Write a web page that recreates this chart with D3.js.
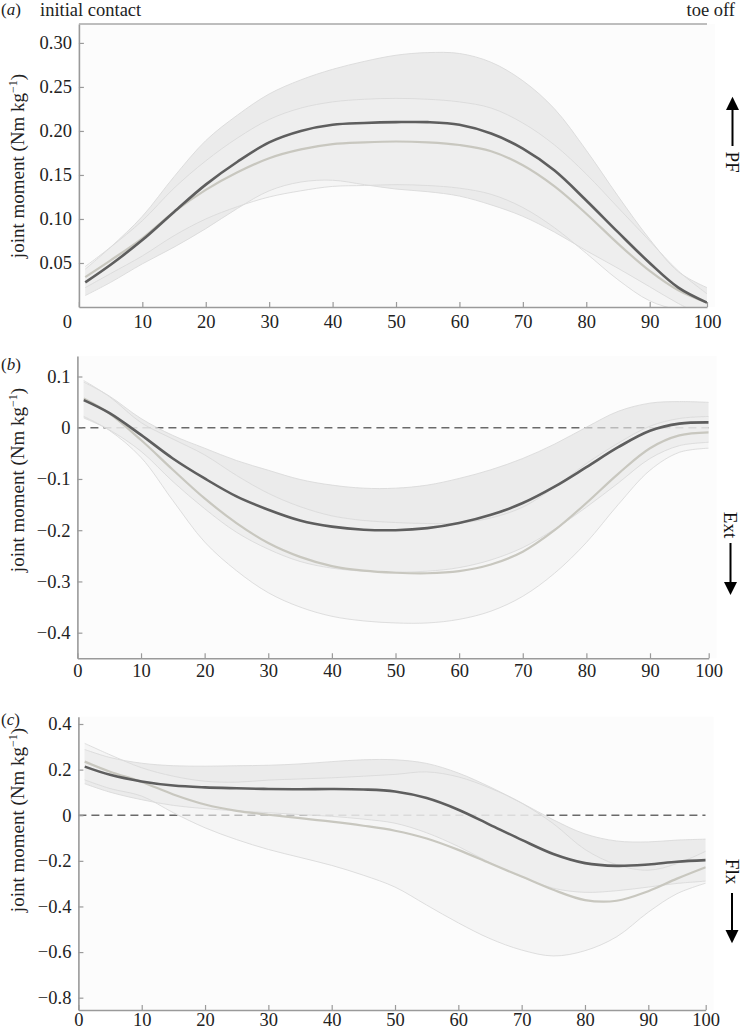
<!DOCTYPE html>
<html><head><meta charset="utf-8">
<script src="https://cdn.jsdelivr.net/npm/d3@7"></script>
<style>
html,body{margin:0;padding:0;background:#fff;}
</style></head>
<body><svg id="chart" width="744" height="1034" font-family="'Liberation Serif', 'DejaVu Serif', serif"></svg>
<script>
// ---- data ----
const xs = [1,5,10,15,20,25,30,35,40,45,50,55,60,65,70,75,80,85,90,95,100];
const xTicks = [0,10,20,30,40,50,60,70,80,90,100];

const aDarkMean  = [0.028,0.048,0.076,0.108,0.139,0.165,0.187,0.200,0.207,0.209,0.210,0.210,0.207,0.197,0.180,0.155,0.121,0.085,0.050,0.022,0.005];
const aDarkSD    = [0.015,0.020,0.027,0.040,0.050,0.053,0.055,0.058,0.063,0.070,0.076,0.079,0.081,0.081,0.077,0.070,0.057,0.041,0.027,0.018,0.017];
const aLightMean = [0.034,0.053,0.078,0.108,0.133,0.153,0.169,0.179,0.185,0.187,0.188,0.187,0.184,0.177,0.161,0.137,0.106,0.072,0.041,0.019,0.005];
const aLightSD   = [0.012,0.015,0.020,0.027,0.033,0.039,0.044,0.047,0.048,0.049,0.049,0.049,0.049,0.049,0.048,0.047,0.045,0.041,0.034,0.022,0.010];
const aYTicks = [0.05,0.10,0.15,0.20,0.25,0.30];

const bDarkMean  = [0.054,0.029,-0.014,-0.060,-0.099,-0.134,-0.160,-0.181,-0.193,-0.199,-0.200,-0.196,-0.186,-0.170,-0.147,-0.115,-0.077,-0.038,-0.006,0.008,0.0105];
const bDarkSD    = [0.035,0.033,0.032,0.045,0.059,0.070,0.077,0.080,0.081,0.081,0.082,0.084,0.087,0.088,0.087,0.083,0.078,0.070,0.054,0.043,0.039];
const bLightMean = [0.057,0.028,-0.024,-0.082,-0.138,-0.186,-0.225,-0.252,-0.270,-0.279,-0.283,-0.284,-0.280,-0.267,-0.242,-0.200,-0.147,-0.090,-0.040,-0.015,-0.009];
const bLightSD   = [0.035,0.033,0.034,0.060,0.085,0.093,0.097,0.098,0.098,0.098,0.098,0.097,0.094,0.091,0.087,0.084,0.077,0.060,0.043,0.033,0.031];
const bYTicks = [0.1,0,-0.1,-0.2,-0.3,-0.4];

const cDarkMean  = [0.213,0.177,0.148,0.130,0.122,0.118,0.115,0.114,0.115,0.113,0.104,0.075,0.024,-0.042,-0.108,-0.170,-0.210,-0.222,-0.216,-0.204,-0.197];
const cDarkSD    = [0.075,0.076,0.080,0.087,0.093,0.099,0.104,0.111,0.120,0.130,0.139,0.152,0.161,0.166,0.162,0.150,0.128,0.109,0.099,0.095,0.092];
const cLightMean = [0.235,0.191,0.146,0.091,0.047,0.019,0.002,-0.013,-0.028,-0.046,-0.068,-0.102,-0.152,-0.211,-0.269,-0.327,-0.372,-0.375,-0.333,-0.278,-0.228];
const cLightSD   = [0.080,0.074,0.062,0.080,0.102,0.126,0.152,0.172,0.192,0.217,0.247,0.292,0.320,0.330,0.322,0.290,0.222,0.158,0.092,0.066,0.070];
const cYTicks = [0.4,0.2,0,-0.2,-0.4,-0.6,-0.8];

const panelLetters = ["a","b","c"];
const directionLabels = ["PF","Ext","Flx"];
const yAxisTitle = "joint moment (Nm kg";
const startLabel = "initial contact";
const endLabel = "toe off";

// ---- layout ----
const FONT = "'Liberation Serif', 'DejaVu Serif', serif";
const panels = [
  {letter:panelLetters[0], dark:[aDarkMean,aDarkSD], light:[aLightMean,aLightSD], yTicks:aYTicks, fmt:d3.format(".2f"),
   yDomain:[0,0.3215], yRange:[307,24], xRange:[78.9,649.7,707], zero:false, topLine:true, zeroLabelDx:-12,
   labelY:15, titleY:166, xPad:8, dir:directionLabels[0], dirUp:true, arrowX:732.5, textC:162, lineA:110, lineB:146, tip:96.7},
  {letter:panelLetters[1], dark:[bDarkMean,bDarkSD], light:[bLightMean,bLightSD], yTicks:bYTicks, fmt:v=>v===0?"0":d3.format(".1f")(v),
   yDomain:[-0.45,0.14], yRange:[658.3,356], xRange:[77.4,650,708.7], zero:true, topLine:false, zeroLabelDx:0,
   labelY:370, titleY:480, xPad:6, dir:directionLabels[1], dirUp:false, arrowX:730.5, textC:525, lineA:543, lineB:582, tip:595},
  {letter:panelLetters[2], dark:[cDarkMean,cDarkSD], light:[cLightMean,cLightSD], yTicks:cYTicks, fmt:v=>v===0?"0":d3.format(".1f")(v),
   yDomain:[-0.854,0.432], yRange:[1010,716.7], xRange:[78.4,648.3,705.7], zero:true, topLine:false, zeroLabelDx:0,
   labelY:725, titleY:820, xPad:3, dir:directionLabels[2], dirUp:false, arrowX:732, textC:871.5, lineA:893, lineB:930, tip:943.3}
];

const svg = d3.select("#chart");
const defs = svg.append("defs");

svg.append("text").attr("x",40).attr("y",16).attr("font-family",FONT).attr("font-size",18.5).attr("fill","#222").text(startLabel);
svg.append("text").attr("x",735).attr("y",16).attr("text-anchor","end").attr("font-family",FONT).attr("font-size",18.5).attr("fill","#222").text(endLabel);

panels.forEach((p,i)=>{
  const x = d3.scaleLinear().domain([0,90,100]).range(p.xRange);
  const y = d3.scaleLinear().domain(p.yDomain).range(p.yRange);
  const g = svg.append("g");
  const x0 = x(0), x1 = x(100), yTop = p.yRange[1], yBot = p.yRange[0];

  defs.append("clipPath").attr("id","clip"+i).append("rect")
    .attr("x",x0).attr("y",yTop).attr("width",x1-x0).attr("height",yBot-yTop);

  g.append("rect").attr("x",x0).attr("y",yTop).attr("width",x1-x0+8).attr("height",yBot-yTop).attr("fill","#fcfcfc");

  const plot = g.append("g").attr("clip-path",`url(#clip${i})`);

  if(p.zero){
    plot.append("line").attr("x1",x0).attr("x2",x1).attr("y1",y(0)).attr("y2",y(0))
      .attr("stroke","#6a6a6a").attr("stroke-width",1.7).attr("stroke-dasharray","8,5");
  }

  const mk = (m,s)=>xs.map((xv,k)=>({x:xv,m:m[k],lo:m[k]-s[k],hi:m[k]+s[k]}));
  const dk = mk(p.dark[0],p.dark[1]);
  const lt = mk(p.light[0],p.light[1]);
  const curve = d3.curveCatmullRom.alpha(0.5);
  const area = d3.area().x(d=>x(d.x)).y0(d=>y(d.lo)).y1(d=>y(d.hi)).curve(curve);
  const line = key=>d3.line().x(d=>x(d.x)).y(d=>y(d[key])).curve(curve);

  plot.append("path").datum(dk).attr("d",area).attr("fill","#e2e2e2").attr("fill-opacity",0.66);
  plot.append("path").datum(lt).attr("d",area).attr("fill","#f0f0f0").attr("fill-opacity",0.6);
  [lt,dk].forEach(s=>{
    ["lo","hi"].forEach(k=>{
      plot.append("path").datum(s).attr("d",line(k)).attr("fill","none").attr("stroke","#dadada").attr("stroke-width",0.9);
    });
  });
  plot.append("path").datum(lt).attr("d",line("m")).attr("fill","none").attr("stroke","#c8c7bf").attr("stroke-width",2.2);
  plot.append("path").datum(dk).attr("d",line("m")).attr("fill","none").attr("stroke","#5e5e5e").attr("stroke-width",2.6);

  const ax = d3.axisBottom(x).tickValues(xTicks).tickSize(-5).tickSizeOuter(0).tickPadding(p.xPad);
  const ay = d3.axisLeft(y).tickValues(p.yTicks).tickFormat(p.fmt).tickSize(-5).tickSizeOuter(0).tickPadding(7);
  const gx = g.append("g").attr("transform",`translate(0,${yBot})`).call(ax);
  const gy = g.append("g").attr("transform",`translate(${x0},0)`).call(ay);
  [gx,gy].forEach(a=>{
    a.attr("font-family",FONT).attr("font-size",18.5);
    a.select(".domain").attr("stroke","#9a9a9a").attr("stroke-width",1.6);
    a.selectAll(".tick line").attr("stroke","#9a9a9a").attr("stroke-width",1.2);
    a.selectAll(".tick text").attr("fill","#222");
  });
  gx.selectAll(".tick text").filter(d=>d===0).attr("dx",p.zeroLabelDx);
  if(p.topLine){
    g.append("line").attr("x1",x0).attr("x2",x1).attr("y1",yTop).attr("y2",yTop).attr("stroke","#a8a8a8").attr("stroke-width",1.6);
  }

  const lt1 = svg.append("text").attr("x",1).attr("y",p.labelY).attr("font-family",FONT).attr("font-size",17).attr("fill","#222");
  lt1.append("tspan").text("(");
  lt1.append("tspan").attr("font-style","italic").text(p.letter);
  lt1.append("tspan").text(")");

  const t = svg.append("text").attr("transform",`translate(24,${p.titleY}) rotate(-90)`).attr("text-anchor","middle")
     .attr("font-family",FONT).attr("font-size",19).attr("fill","#222");
  t.append("tspan").text(yAxisTitle);
  t.append("tspan").attr("font-size",12).attr("dy",-7).text("−1");
  t.append("tspan").attr("dy",7).text(")");

  svg.append("text").attr("transform",`translate(${p.arrowX},${p.textC}) rotate(90)`).attr("text-anchor","middle")
     .attr("dominant-baseline","central").attr("font-family",FONT).attr("font-size",19).attr("fill","#111").text(p.dir);
  svg.append("line").attr("x1",p.arrowX).attr("x2",p.arrowX).attr("y1",p.lineA).attr("y2",p.lineB)
     .attr("stroke","#000").attr("stroke-width",2);
  const base = p.dirUp ? p.lineA : p.lineB;
  svg.append("path").attr("d",`M${p.arrowX-6.5},${base}L${p.arrowX+6.5},${base}L${p.arrowX},${p.tip}Z`).attr("fill","#000");
});
</script></body></html>
